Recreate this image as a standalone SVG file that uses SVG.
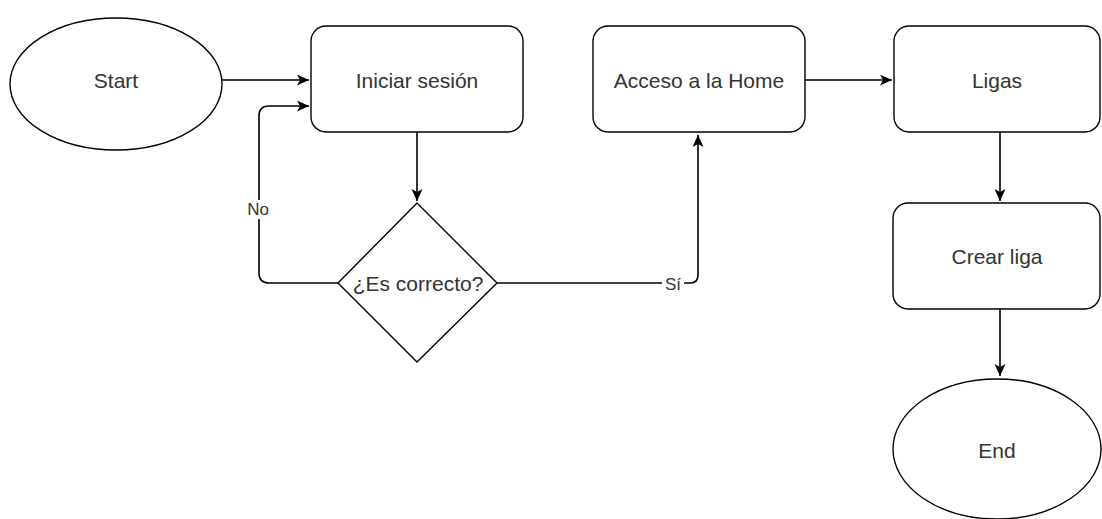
<svg xmlns="http://www.w3.org/2000/svg" width="1102" height="519" viewBox="0 0 1102 519">
<style>
.shape{fill:#fff;stroke:#000;stroke-width:1.4}
.edge{fill:none;stroke:#000;stroke-width:1.6}
.t{font-family:"Liberation Sans",Arial,sans-serif;font-size:21px;fill:#333;text-anchor:middle}
.lbl{font-family:"Liberation Sans",Arial,sans-serif;font-size:17px;fill:#333;text-anchor:middle}
</style>
<defs>
<marker id="arr" markerUnits="userSpaceOnUse" markerWidth="14" markerHeight="12" refX="12" refY="5.5" orient="auto">
<path d="M0,0 L12,5.5 L0,11 L3,5.5 Z" fill="#000"/>
</marker>
</defs>
<rect width="1102" height="519" fill="#fff"/>
<g id="connectors">
<path class="edge" d="M222,80 H309" marker-end="url(#arr)"/>
<path class="edge" d="M417,132 V201" marker-end="url(#arr)"/>
<path class="edge" d="M338,283 H269 Q259,283 259,273 V116 Q259,106 269,106 H309" marker-end="url(#arr)"/>
<path class="edge" d="M497,283 H690 Q698,283 698,275 V135" marker-end="url(#arr)"/>
<path class="edge" d="M805,80 H892" marker-end="url(#arr)"/>
<path class="edge" d="M1000,132 V201" marker-end="url(#arr)"/>
<path class="edge" d="M1000,309 V376" marker-end="url(#arr)"/>
<rect x="246" y="200" width="24" height="19" fill="#fff"/>
<text class="lbl" x="258" y="215">No</text>
<rect x="662" y="275" width="22" height="18" fill="#fff"/>
<text class="lbl" x="673" y="290">Sí</text>
</g>
<g id="start">
<ellipse class="shape" cx="116" cy="84" rx="106" ry="66"/>
<text class="t" x="116" y="88">Start</text>
</g>
<g id="iniciar">
<rect class="shape" x="311" y="26" width="212" height="106" rx="15"/>
<text class="t" x="417" y="88">Iniciar sesión</text>
</g>
<g id="decision">
<path class="shape" d="M417,203 L497,283 L417,362 L338,283 Z"/>
<text class="t" x="418" y="291">¿Es correcto?</text>
</g>
<g id="acceso">
<rect class="shape" x="593" y="26" width="212" height="106" rx="15"/>
<text class="t" x="699" y="88">Acceso a la Home</text>
</g>
<g id="ligas">
<rect class="shape" x="894" y="26" width="206" height="106" rx="15"/>
<text class="t" x="997" y="88">Ligas</text>
</g>
<g id="crear">
<rect class="shape" x="893" y="203" width="207" height="106" rx="15"/>
<text class="t" x="997" y="264">Crear liga</text>
</g>
<g id="end">
<ellipse class="shape" cx="997" cy="449" rx="104" ry="70"/>
<text class="t" x="997" y="458">End</text>
</g>
</svg>
